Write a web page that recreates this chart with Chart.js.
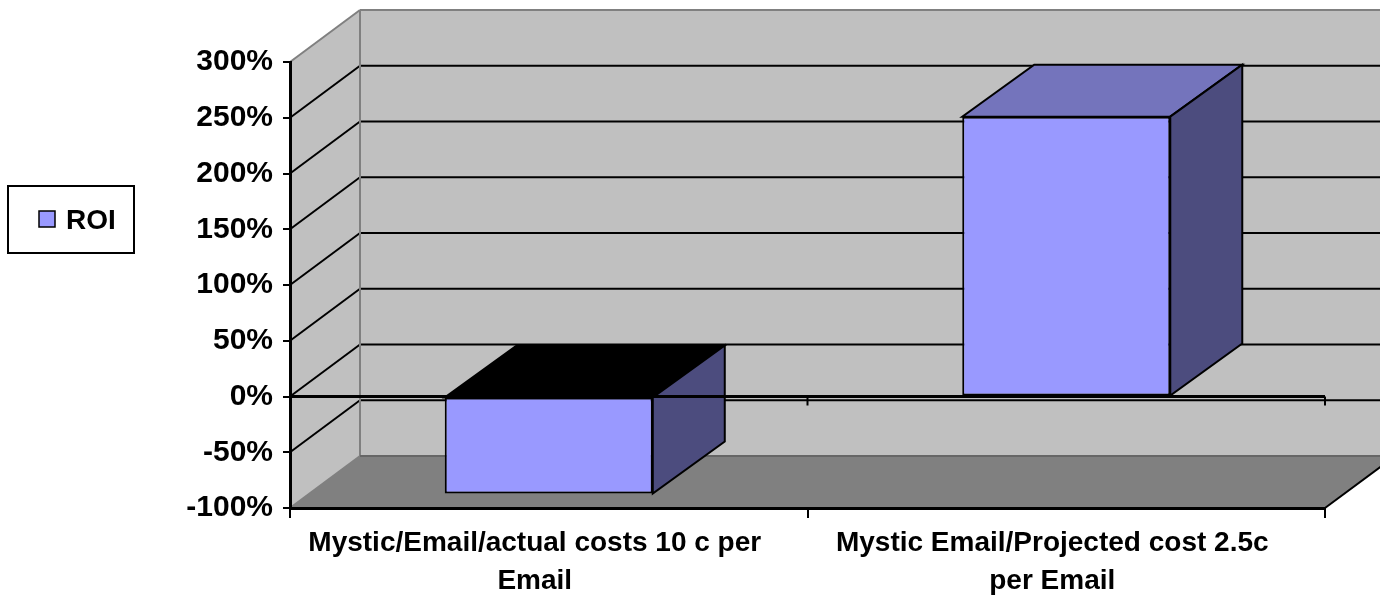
<!DOCTYPE html>
<html>
<head>
<meta charset="utf-8">
<script src="https://cdn.jsdelivr.net/npm/chart.js@4/dist/chart.umd.min.js"></script>
<style>
  html, body { margin: 0; padding: 0; background: #ffffff; }
  #wrap { width: 1380px; height: 598px; position: relative; }
</style>
</head>
<body>
<div id="wrap"><canvas id="roiChart"></canvas></div>
<script>
const categories = [
  ["Mystic/Email/actual costs 10 c per", "Email"],
  ["Mystic Email/Projected cost 2.5c", "per Email"],
];
const roiValues = [-87, 251];
const seriesName = "ROI";
const yMin = -100;
const yMax = 300;
const yStep = 50;

// Cores
const cFront = "#9999ff";
const cTop = "#7474bc";
const cSide = "#4c4c7e";
const cWall = "#c0c0c0";
const cFloor = "#808080";
const cEdge = "#808080";

// profundidade do efeito 3D
const wallDx = 70;
const barDx = 72;
const depthDy = -52;
const fontFamily = "Arial, 'Liberation Sans', sans-serif";

function poly(ctx, pts, fill, stroke, lw) {
  ctx.beginPath();
  ctx.moveTo(pts[0][0], pts[0][1]);
  for (let k = 1; k < pts.length; k++) ctx.lineTo(pts[k][0], pts[k][1]);
  ctx.closePath();
  if (fill) {
    ctx.fillStyle = fill;
    ctx.fill();
  }
  if (stroke) {
    ctx.strokeStyle = stroke;
    ctx.lineWidth = lw || 1;
    ctx.stroke();
  }
}

function line(ctx, x1, y1, x2, y2, color, lw) {
  ctx.beginPath();
  ctx.moveTo(x1, y1);
  ctx.lineTo(x2, y2);
  ctx.strokeStyle = color;
  ctx.lineWidth = lw;
  ctx.stroke();
}

// paredes, piso e linhas de grade
const walls3d = {
  id: "walls3d",
  beforeDraw(chart) {
    const ctx = chart.ctx;
    const a = chart.chartArea;
    const yScale = chart.scales.y;
    ctx.save();
    ctx.lineJoin = "miter";

    // parede do fundo
    poly(ctx, [
      [a.left + wallDx, a.top + depthDy],
      [a.right + wallDx, a.top + depthDy],
      [a.right + wallDx, a.bottom + depthDy],
      [a.left + wallDx, a.bottom + depthDy],
    ], cWall);
    // parede lateral
    poly(ctx, [
      [a.left, a.top],
      [a.left + wallDx, a.top + depthDy],
      [a.left + wallDx, a.bottom + depthDy],
      [a.left, a.bottom],
    ], cWall);
    // piso
    poly(ctx, [
      [a.left, a.bottom],
      [a.right, a.bottom],
      [a.right + wallDx, a.bottom + depthDy],
      [a.left + wallDx, a.bottom + depthDy],
    ], cFloor);

    // grade
    yScale.ticks.forEach((t) => {
      if (t.value === yMin || t.value === yMax) return;
      const y = yScale.getPixelForValue(t.value);
      line(ctx, a.left, y, a.left + wallDx, y + depthDy, "#000", 2);
      line(ctx, a.left + wallDx, y + depthDy, a.right + wallDx + 5, y + depthDy, "#000", 2);
    });

    // bordas
    line(ctx, a.left, a.top, a.left + wallDx, a.top + depthDy, cEdge, 2);
    line(ctx, a.left + wallDx, a.top + depthDy, a.right + wallDx + 5, a.top + depthDy, cEdge, 2);
    line(ctx, a.left + wallDx, a.top + depthDy, a.left + wallDx, a.bottom + depthDy, cEdge, 2);
    line(ctx, a.left, a.bottom, a.left + wallDx, a.bottom + depthDy, cEdge, 2);
    line(ctx, a.left + wallDx, a.bottom + depthDy, a.right + wallDx, a.bottom + depthDy, "#666", 2);
    line(ctx, a.right, a.bottom, a.right + wallDx, a.bottom + depthDy, "#000", 2);
    ctx.restore();
  },
  beforeDatasetsDraw(chart) {
    const ctx = chart.ctx;
    const a = chart.chartArea;
    const xScale = chart.scales.x;
    const yScale = chart.scales.y;
    const meta = chart.getDatasetMeta(0);
    ctx.save();
    ctx.lineJoin = "miter";

    // topo e lateral das colunas
    meta.data.forEach((bar, idx) => {
      const l = bar.x - bar.width / 2;
      const r = bar.x + bar.width / 2;
      const top = Math.min(bar.y, bar.base);
      const bottom = Math.max(bar.y, bar.base);
      const topFill = roiValues[idx] >= 0 ? cTop : "#000000";
      poly(ctx, [
        [l, top],
        [r, top],
        [r + barDx, top + depthDy],
        [l + barDx, top + depthDy],
      ], topFill, "#000", 2);
      poly(ctx, [
        [r, top],
        [r + barDx, top + depthDy],
        [r + barDx, bottom + depthDy],
        [r, bottom],
      ], cSide, "#000", 2);
    });

    // eixo de categorias no zero
    const y0 = yScale.getPixelForValue(0);
    line(ctx, a.left, y0, a.right, y0, "#000", 3);
    const step = xScale.getPixelForValue(1) - xScale.getPixelForValue(0);
    categories.forEach((c, idx) => {
      const xb = xScale.getPixelForValue(idx) + step / 2;
      line(ctx, xb, y0, xb, y0 + 9, "#000", 2);
    });
    ctx.restore();
  },
  afterDraw(chart) {
    // legenda com borda
    const ctx = chart.ctx;
    ctx.save();
    ctx.fillStyle = "#ffffff";
    ctx.fillRect(8, 186, 126, 67);
    ctx.strokeStyle = "#000";
    ctx.lineWidth = 2;
    ctx.strokeRect(8, 186, 126, 67);
    ctx.fillStyle = cFront;
    ctx.fillRect(39, 211, 16, 16);
    ctx.lineWidth = 1.5;
    ctx.strokeRect(39, 211, 16, 16);
    ctx.fillStyle = "#000";
    ctx.font = "bold 28px " + fontFamily;
    ctx.textBaseline = "middle";
    ctx.textAlign = "left";
    ctx.fillText(chart.data.datasets[0].label, 66, 221);
    ctx.restore();
  },
};

const ctx = document.getElementById("roiChart").getContext("2d");
new Chart(ctx, {
  type: "bar",
  data: {
    labels: categories,
    datasets: [
      {
        label: seriesName,
        data: roiValues,
        backgroundColor: cFront,
        borderColor: "#000",
        borderWidth: 2,
        borderSkipped: false,
        categoryPercentage: 1,
        barPercentage: 0.402,
      },
    ],
  },
  options: {
    responsive: true,
    maintainAspectRatio: false,
    animation: false,
    layout: {
      padding: { top: 62, right: 55, left: 0, bottom: 0 },
    },
    scales: {
      x: {
        offset: true,
        border: { display: true, color: "#000", width: 3 },
        grid: {
          offset: true,
          drawOnChartArea: false,
          drawTicks: true,
          tickLength: 10,
          color: "#000",
          lineWidth: 2,
        },
        ticks: {
          color: "#000",
          maxRotation: 0,
          autoSkip: false,
          padding: 6,
          labelOffset: -14,
          font: { family: fontFamily, size: 28, weight: "bold", lineHeight: 1.36 },
        },
        afterFit(scale) {
          scale.height = 90;
        },
      },
      y: {
        min: yMin,
        max: yMax,
        border: { display: true, color: "#000", width: 3 },
        grid: {
          drawOnChartArea: false,
          drawTicks: true,
          tickLength: 7,
          color: "#000",
          lineWidth: 2,
        },
        ticks: {
          stepSize: yStep,
          color: "#000",
          padding: 10,
          font: { family: fontFamily, size: 30, weight: "bold" },
          callback: (v) => v + "%",
        },
        afterFit(scale) {
          scale.width = 290;
        },
      },
    },
    plugins: {
      legend: { display: false },
      tooltip: { enabled: false },
    },
  },
  plugins: [walls3d],
});
</script>
</body>
</html>
